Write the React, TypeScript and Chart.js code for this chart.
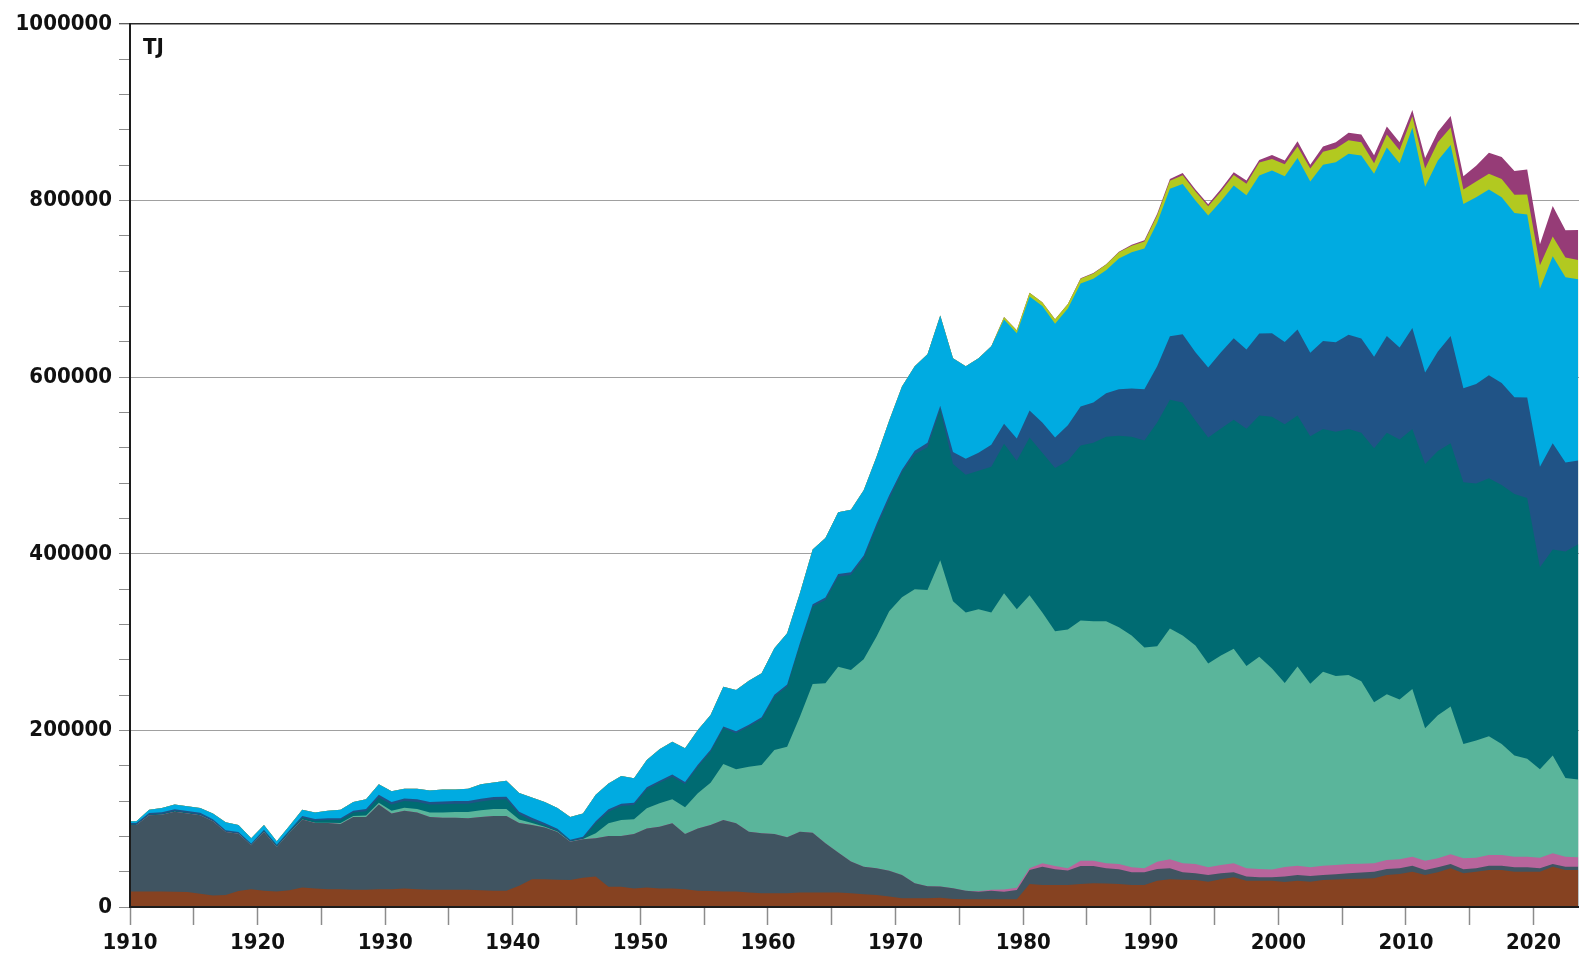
import React, { useEffect, useRef } from "react";
import { Chart, registerables } from "chart.js";

Chart.register(...registerables);

// Values in thousand TJ (multiplied by UNIT when plotted)
const UNIT = 1000;

const years = [
  1910, 1911, 1912, 1913, 1914, 1915, 1916, 1917, 1918, 1919,
  1920, 1921, 1922, 1923, 1924, 1925, 1926, 1927, 1928, 1929,
  1930, 1931, 1932, 1933, 1934, 1935, 1936, 1937, 1938, 1939,
  1940, 1941, 1942, 1943, 1944, 1945, 1946, 1947, 1948, 1949,
  1950, 1951, 1952, 1953, 1954, 1955, 1956, 1957, 1958, 1959,
  1960, 1961, 1962, 1963, 1964, 1965, 1966, 1967, 1968, 1969,
  1970, 1971, 1972, 1973, 1974, 1975, 1976, 1977, 1978, 1979,
  1980, 1981, 1982, 1983, 1984, 1985, 1986, 1987, 1988, 1989,
  1990, 1991, 1992, 1993, 1994, 1995, 1996, 1997, 1998, 1999,
  2000, 2001, 2002, 2003, 2004, 2005, 2006, 2007, 2008, 2009,
  2010, 2011, 2012, 2013, 2014, 2015, 2016, 2017, 2018, 2019,
  2020, 2021, 2022, 2023,
];

const wood = [
  17.5, 17.5, 17.5, 17.4, 17, 15, 13, 13.5, 18, 20,
  18.5, 17.5, 19, 22, 21, 20, 20, 19.5, 19.5, 20,
  20, 21, 20, 19.5, 19.5, 19.5, 19.5, 19, 18.5, 18.5,
  24, 31.5, 31.5, 31, 30.5, 33, 34.5, 23, 23, 21,
  22, 21, 21, 20, 18.5, 18, 17.5, 17.5, 16.5, 15.5,
  15.5, 15.5, 16.5, 16.3, 16.5, 16.3, 15.5, 14.5, 13.5, 12,
  10, 10, 10, 10.5, 9, 8.7, 8.7, 8.7, 8.7, 8.7,
  26, 25, 25, 25, 26, 26.8, 26.5, 26, 25, 25,
  29.8, 31.4, 31, 30.6, 28.7, 31.4, 33.6, 29.8, 29.8, 29.8,
  28.4, 29.8, 28.7, 30.6, 31.2, 31.7, 32.1, 32.5, 36.3, 37.4,
  40, 36.3, 39.3, 43.8, 38.2, 40, 41.9, 41.9, 40, 40,
  40, 45.7, 41.9, 41.9,
];

const coal = [
  75.5, 86.5, 87, 90.6, 89, 89, 84, 71.5, 65, 50,
  66.5, 50.5, 65, 77, 74, 75, 74, 82.5, 82.5, 96,
  86, 88, 87, 82.5, 81.5, 81.5, 81, 83, 84.5, 84.5,
  71, 61.5, 58.5, 54, 43.5, 43.7, 43.5, 57.4, 57.4, 61.7,
  67, 70, 73.8, 62.7, 70.5, 75, 81, 77.3, 68.8, 68,
  67.2, 63.4, 68.8, 67.9, 55.6, 45.3, 35.9, 31.2, 30.3, 29,
  26.3, 17, 13.5, 12.6, 12.2, 9.8, 8.7, 9.8, 8.7, 10.6,
  15.9, 20.7, 17.7, 16.2, 20.5, 19.7, 17.3, 16.7, 14.3, 14.3,
  13.2, 12.4, 8.3, 7.6, 7.6, 6.8, 5.7, 4.6, 3.8, 3.8,
  6.2, 6.5, 6.4, 5.7, 6, 6.5, 7, 7.5, 6.8, 6.4,
  6.8, 5.6, 5.7, 4.9, 4.5, 3.8, 4.9, 4.9, 5, 5,
  3.8, 3, 3.8, 3.8,
];

const waste = [
  0, 0, 0, 0, 0, 0, 0, 0, 0, 0,
  0, 0, 0, 0, 0, 0, 0, 0, 0, 0,
  0, 0, 0, 0, 0, 0, 0, 0, 0, 0,
  0, 0, 0, 0, 0, 0, 0, 0, 0, 0,
  0, 0, 0, 0, 0, 0, 0, 0, 0, 0,
  0, 0, 0, 0, 0, 0, 0, 0, 0, 0,
  0, 0, 0, 0, 0, 0, 0.5, 1, 2.5, 2.6,
  2, 3.8, 3.8, 2.6, 6, 6, 5.7, 6, 5.7, 4.5,
  8.3, 10.2, 10.2, 10.6, 8.7, 9.4, 10.2, 9.4, 9.4, 9,
  10.6, 10.5, 9.9, 10.5, 10.5, 10.5, 9.9, 9.5, 10.2, 10.2,
  10.2, 10.6, 10.1, 11, 12.4, 12.1, 12.1, 12.1, 12, 12,
  12.1, 12.1, 11.3, 10.6,
];

const heatingOil = [
  0, 0, 0, 0, 0, 0, 0, 0, 0, 0,
  0, 0, 0, 0.2, 0.3, 0.5, 1, 1, 1.5, 2,
  3, 3.5, 4, 5, 6, 6.5, 7, 7.5, 8, 8,
  4, 2, 1, 0.5, 0.3, 0.3, 5.5, 14.4, 18.2, 16.6,
  22.8, 26.4, 27.2, 30.2, 39.7, 47.8, 63.5, 61.1, 73.6, 77.3,
  95.1, 102.7, 130.3, 168.4, 181.2, 210.6, 217, 234.8, 262.4, 293.9,
  314.5, 332.9, 335.5, 369.6, 325.1, 315, 319.3, 314, 335.4, 315.3,
  309.2, 284, 265.7, 270.6, 271.9, 271, 274, 268, 262.6, 250.2,
  244, 261.3, 258.1, 247.4, 230.8, 237.3, 243.1, 229.2, 240.3, 227.4,
  208.5, 225.5, 207.7, 219.5, 213.9, 214.1, 206.7, 182.5, 187.6, 180.9,
  189.8, 149.8, 162, 167.5, 129.5, 132.8, 134.6, 125.7, 114.5, 111,
  100.2, 110.7, 89.1, 88,
];

const motorFuels = [
  0.5, 0.5, 0.7, 0.8, 0.8, 0.6, 0.5, 0.3, 0.3, 0.5,
  1, 1, 1.5, 2, 2.5, 3, 3.5, 4, 5, 6,
  7, 7.5, 8, 9, 9.5, 9.5, 9.5, 10, 10.5, 11,
  6, 3, 1.5, 1, 0.5, 0.5, 11.3, 13.2, 15.8, 16.2,
  21.5, 23.4, 25.6, 26.4, 30.2, 35.1, 40.4, 40.8, 45.4, 51.8,
  60.4, 68, 81.1, 87.6, 94.4, 101.9, 107.6, 114.5, 124, 127.3,
  141.5, 152.8, 161.8, 170.9, 155.5, 156, 156.9, 165.1, 169.2, 168.2,
  178.7, 181, 185.1, 191, 198.3, 202.4, 209.2, 216.9, 225.1, 234.2,
  253.3, 259.3, 263.8, 254.7, 256, 256.9, 259.2, 268.5, 273.2, 285.2,
  293.1, 284.4, 280.3, 275, 276.7, 278.5, 281.5, 287.4, 296.3, 294.5,
  294.5, 299.3, 299.3, 298.1, 296.3, 291, 292.1, 293.3, 296.3, 295.1,
  228.8, 233.5, 256.5, 266.6,
];

const gas = [
  1.5, 2, 2, 2, 2, 2, 2, 1.5, 1.5, 1.5,
  1.5, 1.5, 1.5, 1.8, 2, 2, 2, 2, 2.5, 3,
  3, 3, 3, 3, 3, 3, 3, 3, 3, 3,
  3, 3, 2.5, 2, 1.5, 2, 2.2, 2.6, 2.6, 2.5,
  2.2, 2.2, 2.4, 2.2, 2.1, 2.1, 2.1, 2.3, 2.2, 2.4,
  2.3, 2.4, 2.3, 2.8, 2.8, 2.9, 3, 3, 3.5, 4,
  3, 4, 5, 4, 13.6, 18.2, 20.4, 25, 22.8, 25.1,
  30.5, 34.1, 34.5, 40.1, 44.1, 45.5, 49.1, 52.8, 54.6, 58.2,
  63.7, 71.8, 77.3, 77.3, 79.2, 86.4, 92.3, 89.8, 92.9, 94.5,
  93.1, 97.2, 94.8, 99.6, 101.4, 106.7, 106.6, 103.7, 109.6, 104.3,
  114.4, 103.7, 112.6, 121.5, 106.6, 112.6, 116.7, 115.6, 109.6, 113.8,
  113.7, 120.3, 100.8, 94.8,
];

const electricity = [
  2, 3.5, 4.8, 5.2, 5.2, 5.4, 6.5, 9.2, 8.2, 6,
  5.5, 4, 5, 7, 7.2, 8.5, 9.5, 10, 11, 12,
  12, 11, 12, 13, 13.5, 13, 14, 16.5, 16.5, 18,
  21, 23, 24, 23.5, 25.7, 26.5, 30, 29.4, 31.4, 27.7,
  31, 35.6, 37.2, 38.2, 39.5, 39.4, 45, 46.8, 49.8, 49.6,
  52.5, 58, 56.3, 62, 67.5, 70, 71, 74, 76, 84.8,
  94.3, 95.6, 100.2, 102.4, 106, 104.6, 106.9, 111.4, 118, 119.3,
  129.2, 131.9, 128.7, 132.3, 139.2, 140.1, 139.2, 148.1, 154.2, 159.4,
  162.7, 167, 170, 172, 172, 171, 173, 174.8, 178.9, 184.3,
  187.8, 194.4, 193.8, 199.7, 203.8, 205, 207.4, 207.4, 213.3, 208.6,
  226.9, 210.4, 216.3, 216.3, 208.6, 211.5, 210.4, 210.3, 208.6, 207.4,
  201.5, 211.6, 209.8, 205.1,
];

const otherRenewables = [
  0, 0, 0, 0, 0, 0, 0, 0, 0, 0,
  0, 0, 0, 0, 0, 0, 0, 0, 0, 0,
  0, 0, 0, 0, 0, 0, 0, 0, 0, 0,
  0, 0, 0, 0, 0, 0, 0, 0, 0, 0,
  0, 0, 0, 0, 0, 0, 0, 0, 0, 0,
  0, 0, 0, 0, 0, 0, 0, 0, 0, 0,
  0, 0, 0, 0, 0, 0, 0, 0, 3, 3.5,
  4, 4.5, 5, 5, 5.5, 6, 6.5, 7, 7.5, 8,
  8.5, 9, 10, 10, 10.5, 11, 12, 13, 14.8, 13,
  13.6, 13, 14.8, 14.8, 15.4, 15.4, 14.8, 11.9, 14.8, 14.8,
  13, 20.7, 20.7, 19.6, 16.6, 17.8, 17.8, 20.7, 20.7, 22.5,
  26.7, 22.5, 22.5, 22,
];

const districtHeat = [
  0, 0, 0, 0, 0, 0, 0, 0, 0, 0,
  0, 0, 0, 0, 0, 0, 0, 0, 0, 0,
  0, 0, 0, 0, 0, 0, 0, 0, 0, 0,
  0, 0, 0, 0, 0, 0, 0, 0, 0, 0,
  0, 0, 0, 0, 0, 0, 0, 0, 0, 0,
  0, 0, 0, 0, 0, 0, 0, 0, 0, 0,
  0, 0, 0, 0, 0, 0, 0, 0, 0, 0,
  0, 0, 0, 0, 0.5, 0.5, 0.5, 0.5, 1, 1.2,
  1.5, 2, 2.5, 2.5, 2.5, 3, 3, 3.6, 3, 4.7,
  4.1, 5.9, 4.1, 5.9, 7.1, 8.3, 8.9, 8.9, 8.9, 8.9,
  7.1, 11.9, 11.9, 13, 14.8, 17.8, 23.7, 24.9, 26.7, 28.4,
  23.7, 34.4, 30.8, 33.8,
];

const xTickLabels = [1910, 1920, 1930, 1940, 1950, 1960, 1970, 1980, 1990, 2000, 2010, 2020];
const yTickLabels = [0, 200000, 400000, 600000, 800000, 1000000];

const SERIES = [
  { label: "Holz", values: wood, color: "#864221" },
  { label: "Kohle", values: coal, color: "#405461" },
  { label: "Abfälle", values: waste, color: "#b8659c" },
  { label: "Heizöl", values: heatingOil, color: "#5ab59b" },
  { label: "Treibstoffe", values: motorFuels, color: "#006b72" },
  { label: "Gas", values: gas, color: "#205386" },
  { label: "Elektrizität", values: electricity, color: "#00abe1" },
  { label: "Übrige erneuerbare", values: otherRenewables, color: "#b2c920" },
  { label: "Fernwärme", values: districtHeat, color: "#963c77" },
];

const X_MIN = 1910;
const X_MAX = 2023.56;
const FONT_FAMILY = "'DejaVu Sans Condensed', 'DejaVu Sans', sans-serif";

export default function App() {
  const canvasRef = useRef<HTMLCanvasElement | null>(null);

  useEffect(() => {
    document.body.style.margin = "0";
    const canvas = canvasRef.current;
    if (!canvas) return;

    const datasets = SERIES.map((s) => ({
      label: s.label,
      data: [
        { x: X_MIN, y: s.values[0] * UNIT },
        ...years.map((yr, i) => ({ x: yr + 0.5, y: s.values[i] * UNIT })),
      ],
      backgroundColor: s.color,
      borderColor: s.color,
      borderWidth: 0,
      pointRadius: 0,
      pointHoverRadius: 0,
      fill: "origin",
      tension: 0,
    }));

    const tickFont = { family: FONT_FAMILY, size: 22, weight: "bold" as const };

    const chart = new Chart(canvas, {
      type: "line",
      data: { datasets: datasets as any },
      options: {
        responsive: false,
        animation: false,
        devicePixelRatio: 1,
        layout: { padding: { top: 24, right: 0, left: 0, bottom: 0 } },
        plugins: {
          legend: { display: false },
          tooltip: { enabled: false },
        },
        elements: { line: { borderWidth: 0 }, point: { radius: 0 } },
        scales: {
          x: {
            type: "linear",
            min: X_MIN,
            max: X_MAX,
            afterBuildTicks: (scale: any) => {
              scale.ticks = scale.ticks.filter((t: any) => Math.abs(t.value % 5) < 1e-6);
            },
            afterFit: (scale: any) => {
              scale.height = 50;
            },
            ticks: {
              stepSize: 5,
              includeBounds: false,
              autoSkip: false,
              maxRotation: 0,
              minRotation: 0,
              padding: 5,
              color: "#111",
              font: tickFont,
              callback: (v: any) => (xTickLabels.includes(Number(v)) ? String(v) : ""),
            },
            grid: {
              drawOnChartArea: false,
              tickLength: 18,
              tickColor: "#8c8c8c",
              tickWidth: 1.5,
            },
            border: { color: "#1c1c1c", width: 2, z: 1 },
          },
          y: {
            type: "linear",
            stacked: true,
            min: 0,
            max: 1000000,
            afterBuildTicks: (scale: any) => {
              scale.ticks = scale.ticks.filter((t: any) => t.value % 40000 === 0);
            },
            afterFit: (scale: any) => {
              scale.width = 130;
            },
            ticks: {
              stepSize: 40000,
              autoSkip: false,
              padding: 7,
              color: "#111",
              font: tickFont,
              callback: (v: any) => (yTickLabels.includes(Number(v)) ? String(v) : ""),
            },
            grid: {
              color: (ctx: any) => {
                const v = ctx.tick ? ctx.tick.value : -1;
                if (v === 1000000) return "#2a2a2a";
                if (v % 200000 === 0) return "#a0a0a0";
                return "rgba(0,0,0,0)";
              },
              lineWidth: (ctx: any) => (ctx.tick && ctx.tick.value === 1000000 ? 1.5 : 1),
              tickLength: 11,
              tickColor: (ctx: any) =>
                ctx.tick && ctx.tick.value === 1000000 ? "#2a2a2a" : "#8c8c8c",
              tickWidth: 1,
            },
            border: { color: "#1c1c1c", width: 2, z: 1 },
          },
        },
      } as any,
    });

    return () => {
      chart.destroy();
    };
  }, []);

  return (
    <div style={{ position: "absolute", left: 0, top: 0, width: 1579, height: 957, background: "#fff", overflow: "hidden" }}>
      <canvas ref={canvasRef} width={1579} height={957} style={{ display: "block" }} />
      <div
        style={{
          position: "absolute",
          left: 143,
          top: 36,
          fontFamily: FONT_FAMILY,
          fontWeight: "bold",
          fontSize: 22,
          lineHeight: "22px",
          color: "#111",
        }}
      >
        TJ
      </div>
    </div>
  );
}
